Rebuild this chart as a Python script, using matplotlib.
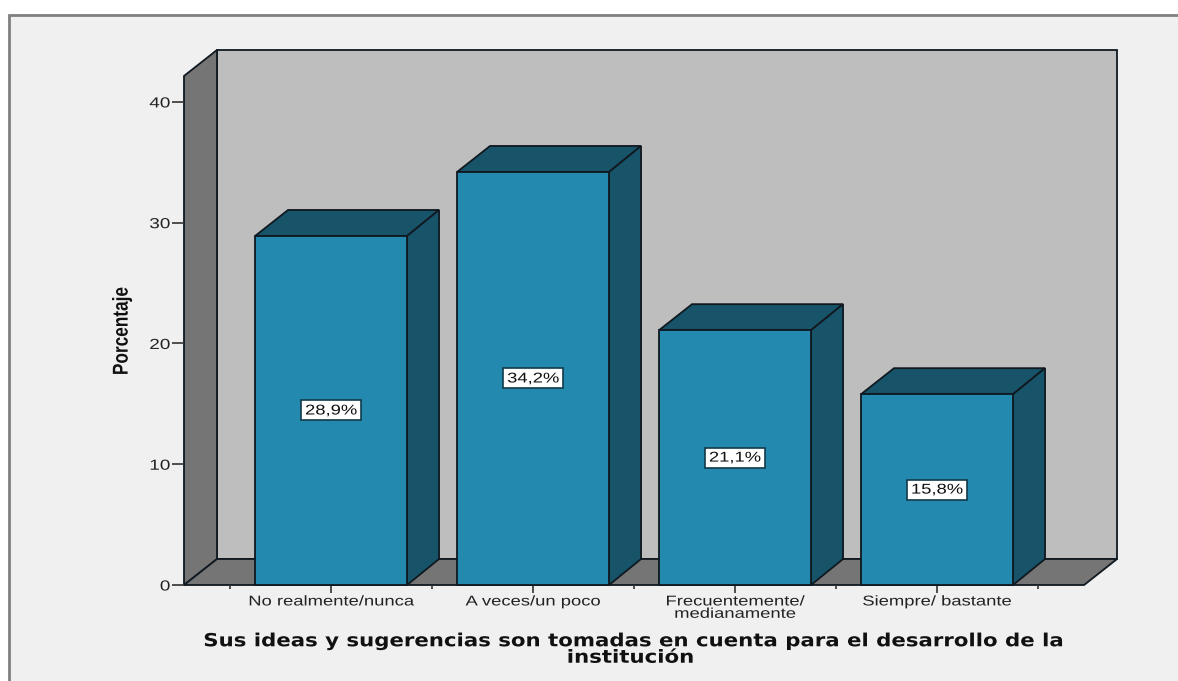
import matplotlib
matplotlib.use("Agg")
import matplotlib.pyplot as plt
from matplotlib.patches import Polygon, Rectangle
from matplotlib.patheffects import AbstractPathEffect
from matplotlib.transforms import Affine2D

# Datos
categorias = ["No realmente/nunca", "A veces/un poco",
              "Frecuentemente/\nmedianamente", "Siempre/ bastante"]
porcentajes = [28.9, 34.2, 21.1, 15.8]
etiquetas = ["28,9%", "34,2%", "21,1%", "15,8%"]
y_ticks = [0, 10, 20, 30, 40]
titulo_x = "Sus ideas y sugerencias son tomadas en cuenta para el desarrollo de la\ninstitución"

W, H = 1178, 681
PANEL = "#f0f0f0"
FRENTE = "#2389ae"
LADO = "#175469"
PARED = "#bebebe"
GRIS = "#757575"
LINEA = "#101820"


class Estirar(AbstractPathEffect):
    """La imagen original esta estirada en horizontal: escala el texto en x alrededor de cx."""

    def __init__(self, cx, sx):
        super().__init__()
        self.cx, self.sx = cx, sx

    def draw_path(self, renderer, gc, tpath, affine, rgbFace=None):
        extra = Affine2D().translate(-self.cx, 0).scale(self.sx, 1).translate(self.cx, 0)
        renderer.draw_path(gc, tpath, affine + extra, rgbFace)


fig = plt.figure(figsize=(W / 100, H / 100), dpi=100, facecolor="white")

# Marco de la ventana: solo borde izquierdo y superior
fig.add_artist(Rectangle((9 / W, -0.01), 1.01, 1 - 15 / H + 0.01, transform=fig.transFigure,
                         facecolor=PANEL, edgecolor="#808080", lw=2, zorder=-1))

# Ejes: la escala x es por categoria (202 px), la y 12.075 px por unidad
ax = fig.add_axes([184 / W, 1 - 585 / H, (1116 - 184) / W, (585 - 50) / H])
ax.patch.set_visible(False)
for s in ax.spines.values():
    s.set_visible(False)
ax.set_xlim(-0.728, 3.886)
ax.set_ylim(0, 44.3)

dx, dy = 33 / 202, 26 / 12.075   # profundidad del efecto 3D
x0, x1 = -0.728, 3.728
ytop = 42.15
ed = dict(edgecolor=LINEA, lw=1.3, joinstyle="miter", clip_on=False)

# Paredes y suelo
ax.add_patch(Polygon([(x0 + dx, dy), (x1 + dx, dy), (x1 + dx, ytop + dy), (x0 + dx, ytop + dy)],
                     facecolor=PARED, zorder=1, **ed))
ax.add_patch(Polygon([(x0, 0), (x0 + dx, dy), (x0 + dx, ytop + dy), (x0, ytop)],
                     facecolor=GRIS, zorder=1, **ed))
ax.add_patch(Polygon([(x0, 0), (x1, 0), (x1 + dx, dy), (x0 + dx, dy)],
                     facecolor=GRIS, zorder=1, **ed))

# Barras 3D
ancho = 152 / 202
caja_w, caja_h = 60 / 202, 20 / 12.075
for i, v in enumerate(porcentajes):
    a, b = i - ancho / 2, i + ancho / 2
    ax.add_patch(Polygon([(a, v), (b, v), (b + dx - 1 / 202, v + dy), (a + dx, v + dy)],
                         facecolor=LADO, zorder=2, **ed))
    ax.add_patch(Polygon([(b, 0), (b + dx - 1 / 202, dy), (b + dx - 1 / 202, v + dy), (b, v)],
                         facecolor=LADO, zorder=2, **ed))
    ax.add_patch(Rectangle((a, 0), ancho, v, facecolor=FRENTE, zorder=3, **ed))
    ax.add_patch(Rectangle((i - caja_w / 2, v / 2 - caja_h / 2), caja_w, caja_h, facecolor="white",
                           edgecolor="#123a48", lw=1.2, zorder=4))
    cx = ax.transData.transform((i, 0))[0]
    ax.text(i, v / 2, etiquetas[i], ha="center", va="center", fontsize=10.2,
            family="Liberation Sans", color="#111111", zorder=5,
            path_effects=[Estirar(cx, 1.3)])

# Marcas y etiquetas de los ejes
ax.set_yticks(y_ticks)
ax.set_xticks(range(len(categorias)))
ax.set_xticks([-0.5, 0.5, 1.5, 2.5, 3.5], minor=True)
ax.set_xticklabels(categorias, fontsize=10.2, family="Liberation Sans", color="#222222", linespacing=0.85)
ax.tick_params(axis="x", which="major", length=5.8, width=1.2, color="#333333", pad=1)
ax.tick_params(axis="x", which="minor", length=3, width=1.2, color="#333333")
ax.tick_params(axis="y", length=8.6, width=1.2, color="#333333", pad=1,
               labelsize=10.5, labelcolor="#222222")
for i, t in enumerate(ax.get_xticklabels()):
    t.set_path_effects([Estirar(ax.transData.transform((i, 0))[0], 1.3)])
for t in ax.get_yticklabels():
    t.set_family("Liberation Sans")
    t.set_path_effects([Estirar(171, 1.3)])

fig.text(122 / W, 1 - 331 / H, "Porcentaje", rotation=90, ha="center", va="center",
         fontsize=12.4, fontweight="bold", family=["Liberation Sans Narrow", "Liberation Sans"],
         color="#111111", path_effects=[Estirar(122, 1.25)])
fig.text(630 / W, 1 - 649.5 / H, titulo_x, ha="center", va="center", fontsize=13,
         fontweight="bold", family="DejaVu Sans", color="#111111", linespacing=0.89,
         path_effects=[Estirar(630, 1.178)])

fig.savefig("out.png", dpi=100, facecolor="white")
